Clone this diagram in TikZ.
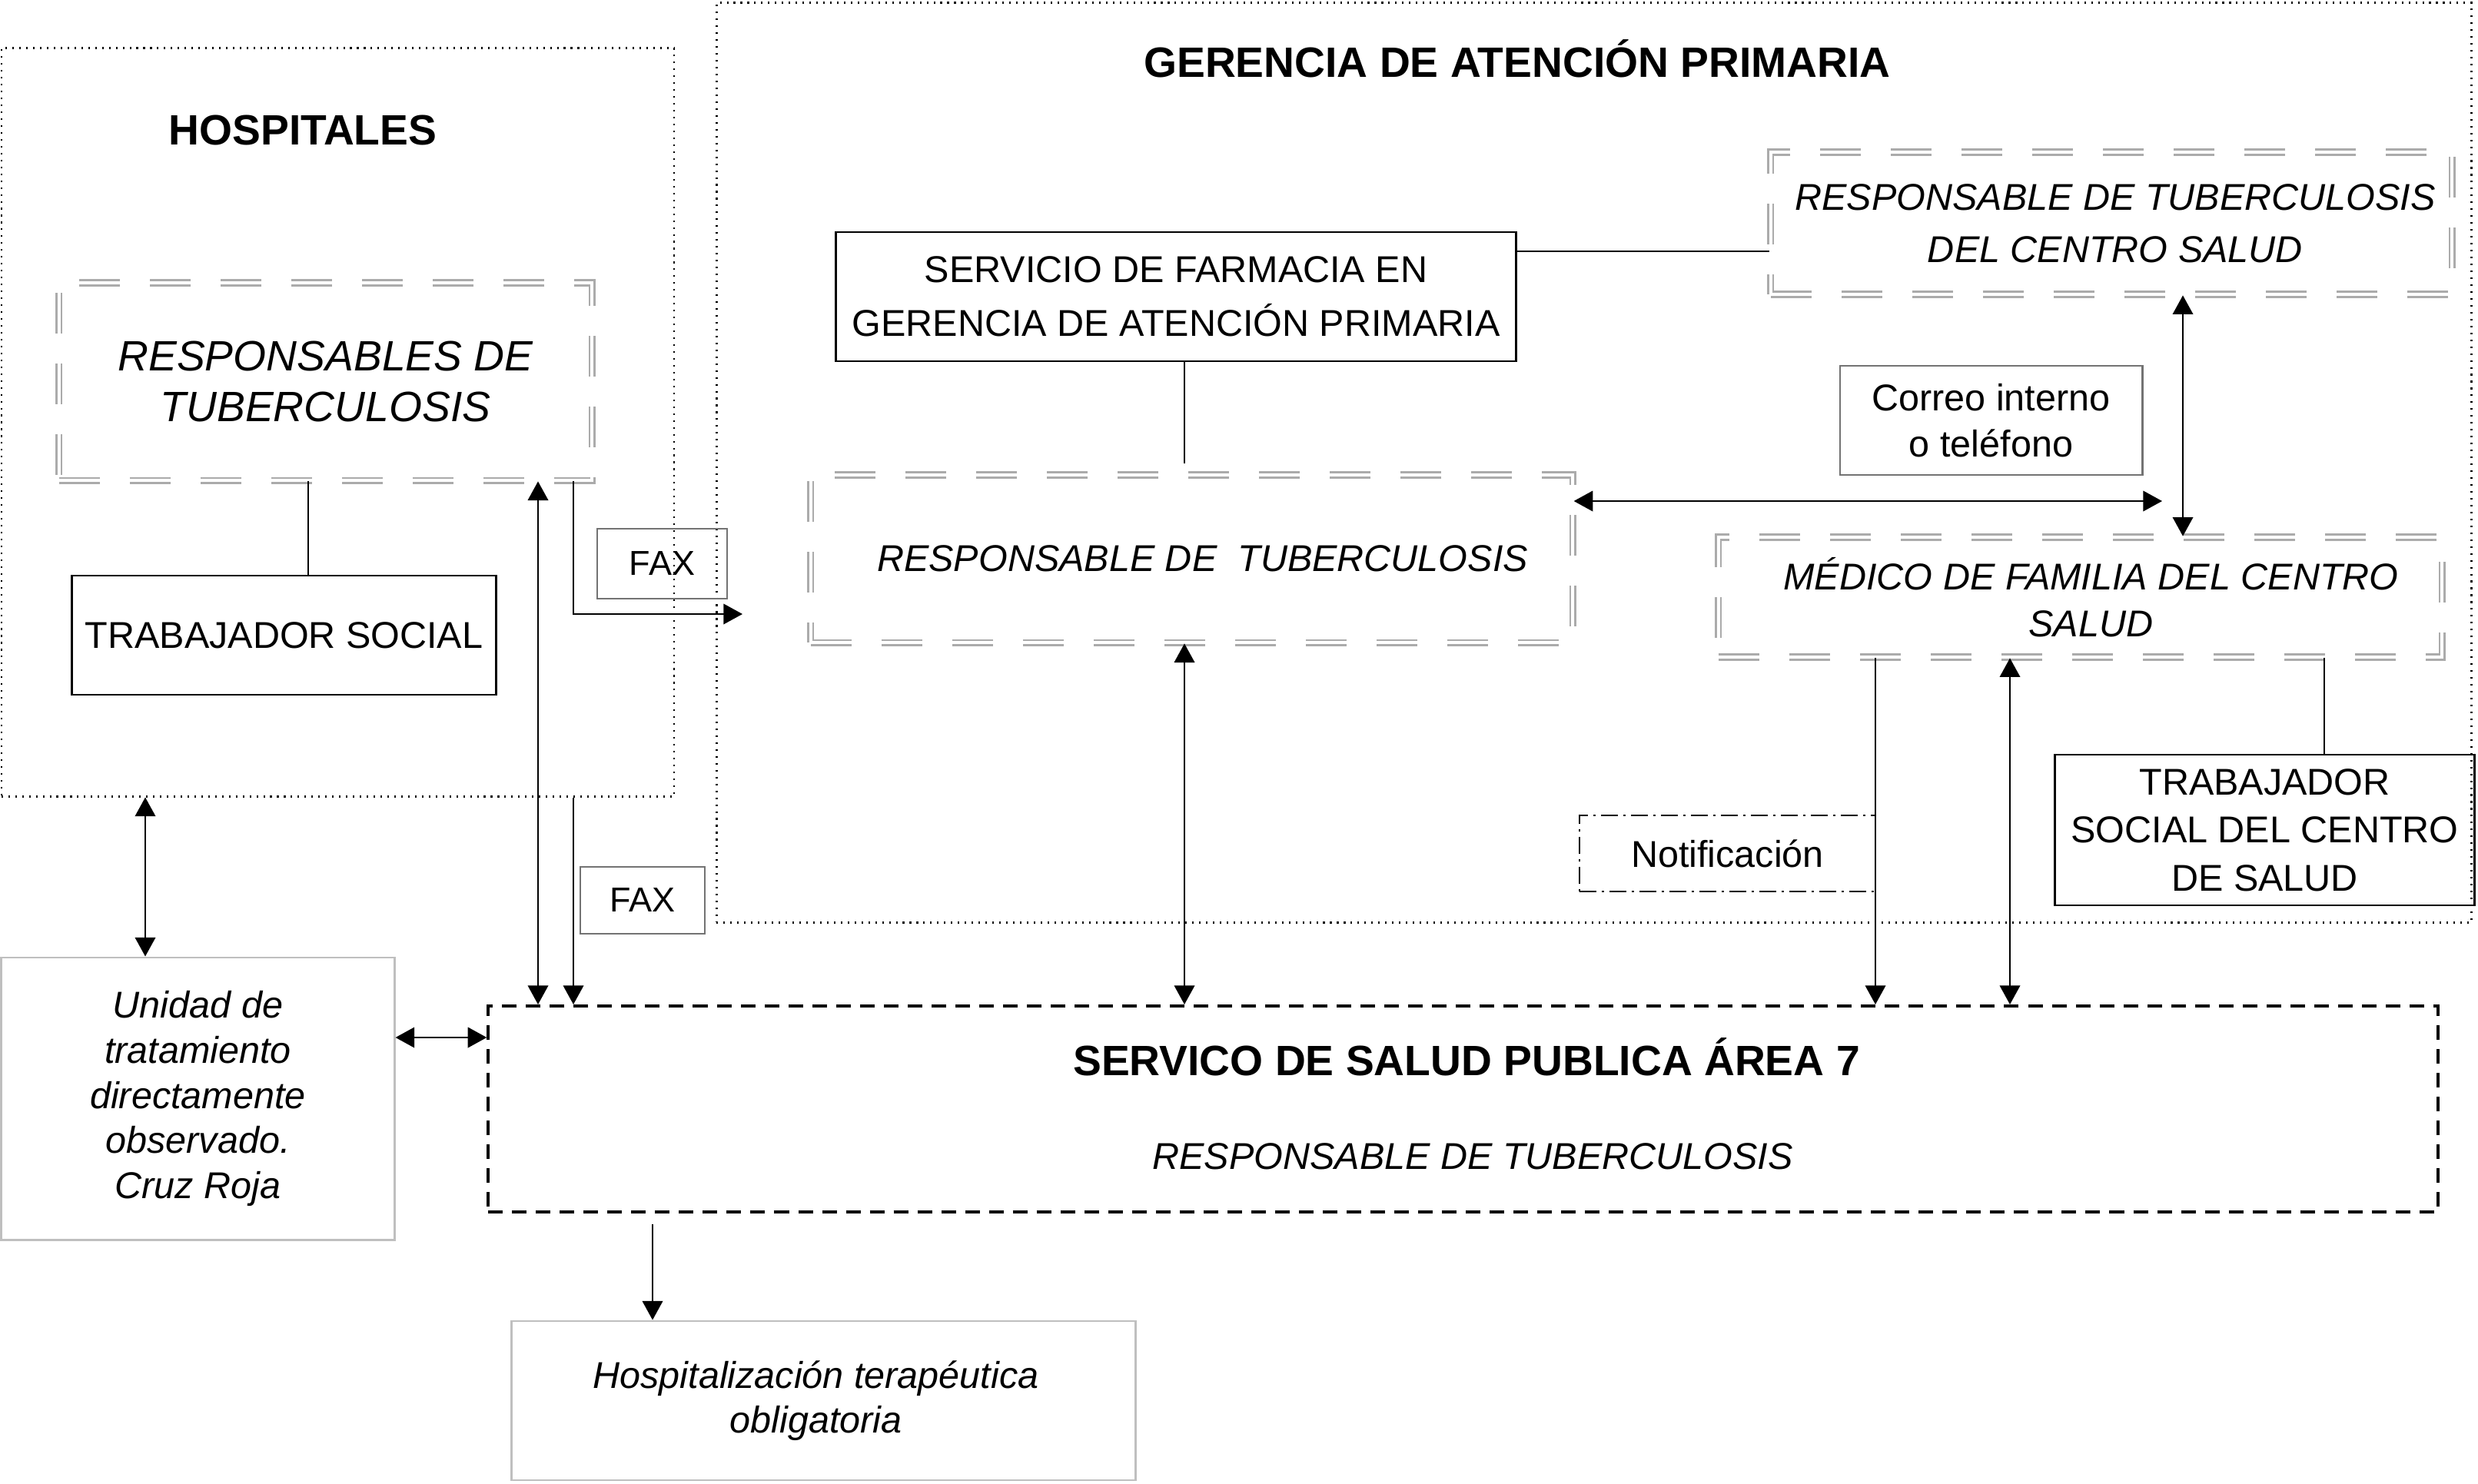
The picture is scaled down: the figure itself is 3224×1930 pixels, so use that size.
\documentclass[tikz,border=0pt]{standalone}
\usepackage{fontspec}
\setmainfont{Liberation Sans}
\usetikzlibrary{arrows.meta}

\begin{document}
\begin{tikzpicture}[x=0.01cm,y=-0.01cm,
  >={Triangle[length=7pt,width=7.5pt]},
  every node/.style={font=\fontsize{13.8}{17}\selectfont,align=center,inner sep=0pt},
  itxt/.style={font=\fontsize{13.8}{17}\selectfont\itshape},
  titulo/.style={font=\fontsize{15.7}{19}\selectfont\bfseries},
  dotbox/.style={draw,line width=0.7pt,dash pattern=on 0.6pt off 1.95pt},
  dblbox/.style={draw=black!33,line width=0.75pt,double=white,double distance=1.1pt,dash pattern=on 0.53cm off 0.39cm},
  solidbox/.style={draw,line width=0.8pt},
  graybox/.style={draw=black!55,line width=0.8pt},
  lightbox/.style={draw=black!25,line width=0.8pt},
  spbox/.style={draw,line width=1.1pt,dash pattern=on 0.19cm off 0.12cm},
  dashdotbox/.style={draw,line width=0.7pt,dash pattern=on 0.22cm off 0.07cm on 0.03cm off 0.07cm},
  faxtxt/.style={font=\fontsize{12.8}{15}\selectfont},
  link/.style={line width=0.7pt}]
\useasboundingbox (0,0) rectangle (3224,1930);

% x / y de los enlaces
\coordinate (xhs) at (401,0);
\coordinate (xup) at (700,0);
\coordinate (xfax) at (746,0);
\coordinate (xhu) at (189,0);
\coordinate (xhter) at (849,0);
\coordinate (xg) at (1541,0);
\coordinate (xcs) at (2840,0);
\coordinate (xnot) at (2440,0);
\coordinate (xmed) at (2615,0);
\coordinate (xts) at (3024,0);
\coordinate (yfc) at (0,327);
\coordinate (yu) at (0,1350);
\coordinate (faxend) at (966,799);
\coordinate (gm) at (2813,652);

% contenedores
\node[dotbox,minimum width=8.75cm,minimum height=9.73cm] (hosp) at (439.5,549.5) {};
\node[dotbox,minimum width=22.82cm,minimum height=11.96cm] (ger) at (2074,602) {};
\node[titulo] (thosp) at (394,169) {HOSPITALES};
\node[titulo] (tger) at (1974,76) {GERENCIA DE ATENCIÓN PRIMARIA};

% hospitales
\node[dblbox,minimum width=6.93cm,minimum height=2.57cm,font=\fontsize{15.7}{18.7}\selectfont\itshape] (hresp) at (423.5,496.5) {RESPONSABLES DE\\TUBERCULOSIS};
\node[solidbox,minimum width=5.51cm,minimum height=1.55cm] (htrab) at (369.5,826.5) {TRABAJADOR SOCIAL};
\node[graybox,faxtxt,minimum width=1.69cm,minimum height=0.91cm] (fax1) at (861.5,733.5) {FAX};
\node[graybox,faxtxt,minimum width=1.62cm,minimum height=0.87cm] (fax2) at (836,1171.5) {FAX};
\node[lightbox,minimum width=5.11cm,minimum height=3.67cm,font=\fontsize{13.8}{16.7}\selectfont\itshape] (unidad) at (257.5,1429.5) {Unidad de\\tratamiento\\directamente\\observado.\\Cruz Roja};

% salud publica
\node[spbox,minimum width=25.35cm,minimum height=2.68cm] (sp) at (1903.5,1443) {};
\node[titulo] (sptit) at (1908,1375) {SERVICO DE SALUD PUBLICA ÁREA 7};
\node[itxt] (spresp) at (1916,1505) {RESPONSABLE DE TUBERCULOSIS};
\node[lightbox,minimum width=8.11cm,minimum height=2.07cm,font=\fontsize{13.8}{16.4}\selectfont\itshape] (hter) at (1071.5,1822.5) {Hospitalización terapéutica\hspace*{0.2cm}\\obligatoria\hspace*{0.2cm}};

% gerencia
\node[solidbox,minimum width=8.84cm,minimum height=1.68cm,font=\fontsize{13.8}{19.9}\selectfont] (farm) at (1530,386) {SERVICIO DE FARMACIA EN\\GERENCIA DE ATENCIÓN PRIMARIA};
\node[dblbox,itxt,minimum width=9.91cm,minimum height=2.18cm] (gresp) at (1550.5,727) {\hspace*{0.28cm}RESPONSABLE DE~~TUBERCULOSIS};
\node[dblbox,minimum width=8.86cm,minimum height=1.85cm,font=\fontsize{13.8}{19.3}\selectfont\itshape] (csresp) at (2747,290.5) {\hspace*{0.1cm}RESPONSABLE DE TUBERCULOSIS\\\hspace*{0.1cm}DEL CENTRO SALUD};
\node[graybox,minimum width=3.93cm,minimum height=1.42cm] (correo) at (2590.5,547) {Correo interno\\o teléfono};
\node[dblbox,minimum width=9.41cm,minimum height=1.56cm,font=\fontsize{13.8}{17.5}\selectfont\itshape] (medico) at (2706.5,777) {\hspace*{0.28cm}MÉDICO DE FAMILIA DEL CENTRO\\\hspace*{0.28cm}SALUD};
\node[dashdotbox,minimum width=3.85cm,minimum height=0.99cm] (notif) at (2247.5,1110.5) {Notificación};
\node[solidbox,minimum width=5.45cm,minimum height=1.96cm,font=\fontsize{13.8}{17.8}\selectfont] (cstrab) at (2946.5,1080) {TRABAJADOR\\SOCIAL DEL CENTRO\\DE SALUD};

% enlaces
\draw[link] (hresp.south -| xhs) -- (htrab.north -| xhs);
\draw[link,<->] (hresp.south -| xup) -- (sp.north -| xup);
\draw[link,->] (hresp.south -| xfax) |- (faxend);
\draw[link,->] (hosp.south -| xfax) -- (sp.north -| xfax);
\draw[link,<->] (hosp.south -| xhu) -- (unidad.north -| xhu);
\draw[link,<->] (unidad.east |- yu) -- (sp.west |- yu);
\draw[link,->,shorten <=4pt] (sp.south -| xhter) -- (hter.north -| xhter);
\draw[link,shorten >=4pt] (farm.south -| xg) -- (gresp.north -| xg);
\draw[link] (farm.east |- yfc) -- (csresp.west |- yfc);
\draw[link,<->] (gresp.south -| xg) -- (sp.north -| xg);
\draw[link,<->] (gresp.east |- gm) -- (gm);
\draw[link,<->] (csresp.south -| xcs) -- (medico.north -| xcs);
\draw[link,->] (medico.south -| xnot) -- (sp.north -| xnot);
\draw[link,<->] (medico.south -| xmed) -- (sp.north -| xmed);
\draw[link] (medico.south -| xts) -- (cstrab.north -| xts);
\end{tikzpicture}
\end{document}
